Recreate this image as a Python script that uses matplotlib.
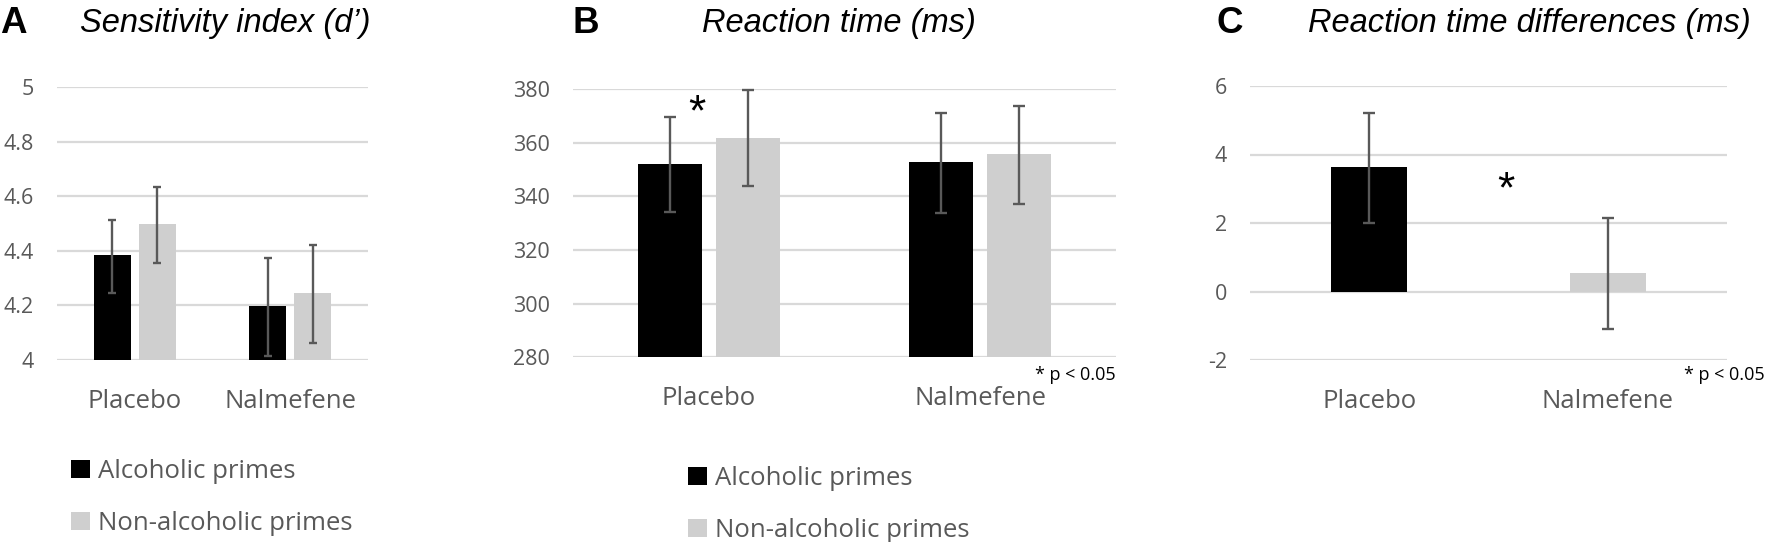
import matplotlib
matplotlib.use("Agg")
import matplotlib.pyplot as plt
import numpy as np

plt.rcParams["axes.unicode_minus"] = False

# ---------------- data ----------------
groups = ["Placebo", "Nalmefene"]
series = ["Alcoholic primes", "Non-alcoholic primes"]

# Panel A: sensitivity index (d')
a_alc = [4.385, 4.199]
a_alc_lo = [4.245, 4.015]
a_alc_hi = [4.513, 4.374]
a_non = [4.498, 4.244]
a_non_lo = [4.355, 4.061]
a_non_hi = [4.633, 4.421]
a_ticks = [4, 4.2, 4.4, 4.6, 4.8, 5]
a_ticklabels = ["4", "4.2", "4.4", "4.6", "4.8", "5"]

# Panel B: reaction time (ms)
b_alc = [352.2, 352.8]
b_alc_lo = [334.2, 333.8]
b_alc_hi = [369.7, 371.1]
b_non = [361.9, 355.6]
b_non_lo = [343.8, 337.3]
b_non_hi = [379.5, 373.8]
b_ticks = [280, 300, 320, 340, 360, 380]

# Panel C: reaction time differences (ms)
c_diff = [3.63, 0.55]
c_lo = [1.99, -1.09]
c_hi = [5.21, 2.14]
c_ticks = [-2, 0, 2, 4, 6]

# ---------------- style ----------------
BLACK = "#000000"
GREY = "#cfcfcf"
TXT = "#595959"
GRID = "#d9d9d9"
ERR = "#595959"
SANS = ["Open Sans", "DejaVu Sans"]
HEAD = ["Liberation Sans", "DejaVu Sans"]

W, H = 1769, 542
fig = plt.figure(figsize=(W / 100, H / 100), dpi=100)


def px_axes(x0, x1, ytop, ybot):
    return fig.add_axes([x0 / W, 1 - ybot / H, (x1 - x0) / W, (ybot - ytop) / H])


def style(ax, ticks, labels=None):
    ax.set_ylim(ticks[0], ticks[-1])
    ax.set_yticks(ticks)
    if labels is not None:
        ax.set_yticklabels(labels)
    ax.set_xlim(-0.5, 1.5)
    ax.set_xticks(range(len(groups)))
    ax.set_xticklabels(groups)
    for s in ax.spines.values():
        s.set_visible(False)
    ax.yaxis.grid(True, color=GRID, lw=1.6)
    ax.set_axisbelow(True)
    ax.tick_params(axis="y", length=0, pad=16.5, labelsize=15.5, labelcolor=TXT)
    ax.tick_params(axis="x", length=0, pad=21, labelsize=18.5, labelcolor=TXT)
    for t in ax.get_xticklabels() + ax.get_yticklabels():
        t.set_family(SANS)


def errs(vals, lo, hi):
    v = np.array(vals)
    return np.vstack([v - np.array(lo), np.array(hi) - v])


EW = 1.7


def grouped(ax, alc, alc_lo, alc_hi, non, non_lo, non_hi, width, off, cap):
    x = np.arange(len(groups))
    b1 = ax.bar(x - off, alc, width, color=BLACK, zorder=2, label=series[0])
    b2 = ax.bar(x + off, non, width, color=GREY, zorder=2, label=series[1])
    ax.errorbar(x - off, alc, yerr=errs(alc, alc_lo, alc_hi), fmt="none",
                ecolor=ERR, elinewidth=EW, capsize=cap, capthick=EW,
                zorder=3, clip_on=False)
    ax.errorbar(x + off, non, yerr=errs(non, non_lo, non_hi), fmt="none",
                ecolor=ERR, elinewidth=EW, capsize=cap, capthick=EW,
                zorder=3, clip_on=False)
    return b1, b2


def legend(ax, handles, left_px, top_px):
    leg = ax.legend(handles, series, loc="upper left",
                    bbox_to_anchor=(left_px / W, 1 - top_px / H),
                    bbox_transform=fig.transFigure, frameon=False,
                    prop={"family": SANS, "size": 18.5},
                    handlelength=0.75, handleheight=0.75, handletextpad=0.3,
                    labelspacing=1.05, borderpad=0, borderaxespad=0)
    for t in leg.get_texts():
        t.set_color(TXT)


def heading(letter, lx, title, tx):
    fig.text(lx / W, 1 - 33 / H, letter, family=HEAD, weight="bold",
             size=26.5, va="baseline", ha="left", color="black")
    fig.text(tx / W, 1 - 32 / H, title, family=HEAD, style="italic",
             size=23.5, va="baseline", ha="left", color="black")


# ---------------- Panel A ----------------
axA = px_axes(57, 368, 87, 360)
hA = grouped(axA, a_alc, a_alc_lo, a_alc_hi, a_non, a_non_lo, a_non_hi,
             0.238, 0.145, 3)
for b in hA:
    for r in b:
        r.set_y(a_ticks[0])
        r.set_height(r.get_height() - a_ticks[0])
style(axA, a_ticks, a_ticklabels)
legend(axA, hA, 71, 459)
heading("A", 0, "Sensitivity index (d\u2019)", 80)

# ---------------- Panel B ----------------
axB = px_axes(573, 1116, 89, 357.3)
hB = grouped(axB, b_alc, b_alc_lo, b_alc_hi, b_non, b_non_lo, b_non_hi,
             0.236, 0.144, 4)
for b in hB:
    for r in b:
        r.set_y(b_ticks[0])
        r.set_height(r.get_height() - b_ticks[0])
style(axB, b_ticks)
legend(axB, hB, 688, 466)
heading("B", 572, "Reaction time (ms)", 702)
axB.annotate("*", xy=(-0.043, 374.9), xytext=(0, -16),
             textcoords="offset points", ha="center", va="baseline",
             family=HEAD, size=32, color="black")
axB.text(1.0, -0.065, "* p < 0.05", transform=axB.transAxes, ha="right",
         va="center", family=SANS, size=13, color="black")

# ---------------- Panel C ----------------
axC = px_axes(1250, 1727, 86, 360)
xc = np.arange(len(groups))
axC.bar(xc, c_diff, 0.32, color=[BLACK, GREY], zorder=2)
axC.errorbar(xc, c_diff, yerr=errs(c_diff, c_lo, c_hi), fmt="none",
             ecolor=ERR, elinewidth=EW, capsize=4, capthick=EW, zorder=3)
style(axC, c_ticks)
heading("C", 1216, "Reaction time differences (ms)", 1308)
axC.annotate("*", xy=(0.573, 3.12), xytext=(0, -13),
             textcoords="offset points", ha="center", va="baseline",
             family=HEAD, size=32, color="black")
axC.text(1.0 + 38 / 477, -0.055, "* p < 0.05", transform=axC.transAxes,
         ha="right", va="center", family=SANS, size=13, color="black")

fig.savefig("out.png", dpi=100)
